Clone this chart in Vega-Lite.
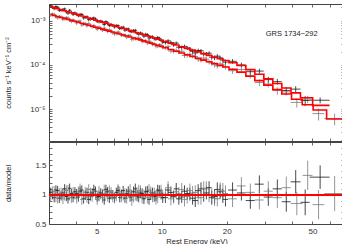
{
"$schema":"https://vega.github.io/schema/vega-lite/v6.json",
"padding":{"left":3,"top":3,"right":3,"bottom":0},
"spacing":-3,
"config":{"font":"Liberation Sans","view":{"stroke":null},
"axis":{"labelFont":"Liberation Sans","titleFont":"Liberation Sans","labelFontSize":8,"titleFontSize":7.5,"titleFontWeight":"normal","labelColor":"#333","titleColor":"#222","domainColor":"#444","tickColor":"#444","tickSize":-3,"grid":false,"labelOverlap":false,"labelFlush":false,"domainWidth":1,"tickWidth":0.8}},
"datasets":{"d":[
{"s":"A","e":3.055,"w":0.055,"m":2.104e-3,"f":2.188e-3,"fe":1.68e-4,"r":1.04,"d":0.08},
{"s":"A","e":3.17,"w":0.06,"m":1.992e-3,"f":1.892e-3,"fe":1.59e-4,"r":0.95,"d":0.08},
{"s":"A","e":3.29,"w":0.06,"m":1.886e-3,"f":2.018e-3,"fe":1.51e-4,"r":1.07,"d":0.08},
{"s":"A","e":3.415,"w":0.065,"m":1.785e-3,"f":1.749e-3,"fe":1.43e-4,"r":0.98,"d":0.08},
{"s":"A","e":3.545,"w":0.065,"m":1.689e-3,"f":1.858e-3,"fe":1.35e-4,"r":1.10,"d":0.08},
{"s":"A","e":3.675,"w":0.065,"m":1.601e-3,"f":1.489e-3,"fe":1.28e-4,"r":0.93,"d":0.08},
{"s":"A","e":3.81,"w":0.07,"m":1.518e-3,"f":1.548e-3,"fe":1.21e-4,"r":1.02,"d":0.08},
{"s":"A","e":3.955,"w":0.075,"m":1.437e-3,"f":1.509e-3,"fe":1.15e-4,"r":1.05,"d":0.08},
{"s":"A","e":4.105,"w":0.075,"m":1.359e-3,"f":1.305e-3,"fe":1.09e-4,"r":0.96,"d":0.08},
{"s":"A","e":4.26,"w":0.08,"m":1.286e-3,"f":1.389e-3,"fe":1.03e-4,"r":1.08,"d":0.08},
{"s":"A","e":4.42,"w":0.08,"m":1.218e-3,"f":1.206e-3,"fe":9.7e-5,"r":0.99,"d":0.08},
{"s":"A","e":4.585,"w":0.085,"m":1.154e-3,"f":1.062e-3,"fe":9.2e-5,"r":0.92,"d":0.08},
{"s":"A","e":4.755,"w":0.085,"m":1.093e-3,"f":1.126e-3,"fe":8.7e-5,"r":1.03,"d":0.08},
{"s":"A","e":4.93,"w":0.09,"m":1.036e-3,"f":1.098e-3,"fe":8.3e-5,"r":1.06,"d":0.08},
{"s":"A","e":5.115,"w":0.095,"m":9.81e-4,"f":9.52e-4,"fe":7.8e-5,"r":0.97,"d":0.08},
{"s":"A","e":5.31,"w":0.1,"m":9.29e-4,"f":9.38e-4,"fe":7.4e-5,"r":1.01,"d":0.08},
{"s":"A","e":5.51,"w":0.1,"m":8.79e-4,"f":9.58e-4,"fe":7.0e-5,"r":1.09,"d":0.08},
{"s":"A","e":5.715,"w":0.105,"m":8.33e-4,"f":7.83e-4,"fe":6.7e-5,"r":0.94,"d":0.08},
{"s":"A","e":5.93,"w":0.11,"m":7.88e-4,"f":7.88e-4,"fe":6.3e-5,"r":1.00,"d":0.08},
{"s":"A","e":6.155,"w":0.115,"m":7.46e-4,"f":7.76e-4,"fe":6.0e-5,"r":1.04,"d":0.08},
{"s":"A","e":6.385,"w":0.115,"m":7.07e-4,"f":6.72e-4,"fe":5.7e-5,"r":0.95,"d":0.08},
{"s":"A","e":6.625,"w":0.125,"m":6.69e-4,"f":7.16e-4,"fe":5.4e-5,"r":1.07,"d":0.08},
{"s":"A","e":6.875,"w":0.125,"m":6.34e-4,"f":6.47e-4,"fe":5.1e-5,"r":1.02,"d":0.08},
{"s":"A","e":7.13,"w":0.13,"m":6.00e-4,"f":5.76e-4,"fe":4.8e-5,"r":0.96,"d":0.08},
{"s":"A","e":7.4,"w":0.14,"m":5.68e-4,"f":5.96e-4,"fe":5.1e-5,"r":1.05,"d":0.09},
{"s":"A","e":7.68,"w":0.14,"m":5.38e-4,"f":5.27e-4,"fe":4.8e-5,"r":0.98,"d":0.09},
{"s":"A","e":7.965,"w":0.145,"m":5.10e-4,"f":5.25e-4,"fe":4.6e-5,"r":1.03,"d":0.09},
{"s":"A","e":8.265,"w":0.155,"m":4.83e-4,"f":4.49e-4,"fe":4.3e-5,"r":0.93,"d":0.09},
{"s":"A","e":8.575,"w":0.155,"m":4.56e-4,"f":4.83e-4,"fe":4.1e-5,"r":1.06,"d":0.09},
{"s":"A","e":8.895,"w":0.165,"m":4.31e-4,"f":4.31e-4,"fe":3.9e-5,"r":1.00,"d":0.09},
{"s":"A","e":9.23,"w":0.17,"m":4.07e-4,"f":3.95e-4,"fe":3.7e-5,"r":0.97,"d":0.09},
{"s":"A","e":9.575,"w":0.175,"m":3.85e-4,"f":4.16e-4,"fe":3.5e-5,"r":1.08,"d":0.09},
{"s":"A","e":9.925,"w":0.175,"m":3.64e-4,"f":3.68e-4,"fe":3.3e-5,"r":1.01,"d":0.09},
{"s":"A","e":10.4,"w":0.3,"m":3.39e-4,"f":3.22e-4,"fe":3.1e-5,"r":0.95,"d":0.09},
{"s":"A","e":11.025,"w":0.325,"m":3.10e-4,"f":3.22e-4,"fe":3.1e-5,"r":1.04,"d":0.10},
{"s":"A","e":11.675,"w":0.325,"m":2.84e-4,"f":3.12e-4,"fe":2.8e-5,"r":1.10,"d":0.10},
{"s":"A","e":12.375,"w":0.375,"m":2.59e-4,"f":2.49e-4,"fe":2.6e-5,"r":0.96,"d":0.10},
{"s":"A","e":13.125,"w":0.375,"m":2.37e-4,"f":2.42e-4,"fe":2.4e-5,"r":1.02,"d":0.10},
{"s":"A","e":13.9,"w":0.4,"m":2.17e-4,"f":2.04e-4,"fe":2.4e-5,"r":0.94,"d":0.11},
{"s":"A","e":14.75,"w":0.45,"m":1.98e-4,"f":2.12e-4,"fe":2.2e-5,"r":1.07,"d":0.11},
{"s":"A","e":15.65,"w":0.45,"m":1.81e-4,"f":1.79e-4,"fe":2.0e-5,"r":0.99,"d":0.11},
{"s":"A","e":16.575,"w":0.475,"m":1.65e-4,"f":1.85e-4,"fe":1.8e-5,"r":1.12,"d":0.11},
{"s":"A","e":17.575,"w":0.525,"m":1.51e-4,"f":1.46e-4,"fe":1.8e-5,"r":0.97,"d":0.12},
{"s":"A","e":18.65,"w":0.55,"m":1.38e-4,"f":1.45e-4,"fe":1.7e-5,"r":1.05,"d":0.12},
{"s":"A","e":19.75,"w":0.55,"m":1.26e-4,"f":1.16e-4,"fe":1.5e-5,"r":0.92,"d":0.12},
{"s":"A","e":21.3,"w":1.0,"m":1.12e-4,"f":1.21e-4,"fe":1.5e-5,"r":1.08,"d":0.13},
{"s":"A","e":23.4,"w":1.1,"m":9.72e-5,"f":1.00e-4,"fe":1.3e-5,"r":1.03,"d":0.13},
{"s":"A","e":25.75,"w":1.25,"m":7.83e-5,"f":7.05e-5,"fe":1.1e-5,"r":0.90,"d":0.14},
{"s":"A","e":28.35,"w":1.35,"m":6.16e-5,"f":7.27e-5,"fe":9.2e-6,"r":1.18,"d":0.15},
{"s":"A","e":31.2,"w":1.5,"m":4.85e-5,"f":4.66e-5,"fe":7.3e-6,"r":0.96,"d":0.15},
{"s":"A","e":34.35,"w":1.65,"m":3.81e-5,"f":4.19e-5,"fe":6.1e-6,"r":1.10,"d":0.16},
{"s":"A","e":37.8,"w":1.8,"m":3.00e-5,"f":2.64e-5,"fe":5.1e-6,"r":0.88,"d":0.17},
{"s":"A","e":41.8,"w":2.2,"m":2.33e-5,"f":2.84e-5,"fe":4.7e-6,"r":1.22,"d":0.20},
{"s":"A","e":46.25,"w":2.25,"m":1.81e-5,"f":1.57e-5,"fe":4.0e-6,"r":0.87,"d":0.22},
{"s":"A","e":54.25,"w":5.75,"m":1.22e-5,"f":1.59e-5,"fe":2.4e-6,"r":1.30,"d":0.20},
{"s":"A","e":60,"m":1.22e-5},
{"s":"A","e":3.11,"w":0.06,"f":2.048e-3,"fe":1.64e-4,"r":1.00,"d":0.08},
{"s":"A","e":3.23,"w":0.06,"f":2.094e-3,"fe":1.55e-4,"r":1.08,"d":0.08},
{"s":"A","e":3.35,"w":0.065,"f":1.726e-3,"fe":1.47e-4,"r":0.94,"d":0.08},
{"s":"A","e":3.48,"w":0.065,"f":1.789e-3,"fe":1.39e-4,"r":1.03,"d":0.08},
{"s":"A","e":3.61,"w":0.065,"f":1.596e-3,"fe":1.32e-4,"r":0.97,"d":0.08},
{"s":"A","e":3.74,"w":0.07,"f":1.732e-3,"fe":1.25e-4,"r":1.11,"d":0.08},
{"s":"A","e":3.88,"w":0.07,"f":1.404e-3,"fe":1.18e-4,"r":0.95,"d":0.08},
{"s":"A","e":4.03,"w":0.075,"f":1.426e-3,"fe":1.12e-4,"r":1.02,"d":0.08},
{"s":"A","e":4.18,"w":0.08,"f":1.402e-3,"fe":1.06e-4,"r":1.06,"d":0.08},
{"s":"A","e":4.34,"w":0.08,"f":1.164e-3,"fe":1.00e-4,"r":0.93,"d":0.08},
{"s":"A","e":4.5,"w":0.085,"f":1.233e-3,"fe":9.5e-5,"r":1.04,"d":0.08},
{"s":"A","e":4.67,"w":0.085,"f":1.102e-3,"fe":9.0e-5,"r":0.98,"d":0.08},
{"s":"A","e":4.84,"w":0.09,"f":1.161e-3,"fe":8.5e-5,"r":1.09,"d":0.08},
{"s":"A","e":5.02,"w":0.09,"f":9.69e-4,"fe":8.1e-5,"r":0.96,"d":0.08},
{"s":"A","e":5.21,"w":0.1,"f":9.84e-4,"fe":7.6e-5,"r":1.03,"d":0.08},
{"s":"A","e":5.41,"w":0.1,"f":8.23e-4,"fe":7.2e-5,"r":0.91,"d":0.08},
{"s":"A","e":5.61,"w":0.105,"f":8.99e-4,"fe":6.8e-5,"r":1.05,"d":0.08},
{"s":"A","e":5.82,"w":0.11,"f":8.11e-4,"fe":6.5e-5,"r":1.00,"d":0.08},
{"s":"A","e":6.04,"w":0.11,"f":7.29e-4,"fe":6.1e-5,"r":0.95,"d":0.08},
{"s":"A","e":6.27,"w":0.115,"f":7.78e-4,"fe":5.8e-5,"r":1.07,"d":0.08},
{"s":"A","e":6.5,"w":0.12,"f":6.95e-4,"fe":5.5e-5,"r":1.01,"d":0.08},
{"s":"A","e":6.75,"w":0.125,"f":6.13e-4,"fe":5.2e-5,"r":0.94,"d":0.08},
{"s":"A","e":7.0,"w":0.13,"f":6.54e-4,"fe":4.9e-5,"r":1.06,"d":0.08},
{"s":"A","e":7.26,"w":0.135,"f":5.78e-4,"fe":5.3e-5,"r":0.99,"d":0.09},
{"s":"A","e":7.54,"w":0.14,"f":6.08e-4,"fe":5.0e-5,"r":1.10,"d":0.09},
{"s":"A","e":7.82,"w":0.145,"f":5.03e-4,"fe":4.7e-5,"r":0.96,"d":0.09},
{"s":"A","e":8.11,"w":0.15,"f":5.07e-4,"fe":4.5e-5,"r":1.02,"d":0.09},
{"s":"A","e":8.42,"w":0.155,"f":4.94e-4,"fe":4.2e-5,"r":1.05,"d":0.09},
{"s":"A","e":8.73,"w":0.16,"f":4.08e-4,"fe":4.0e-5,"r":0.92,"d":0.09},
{"s":"A","e":9.06,"w":0.165,"f":4.32e-4,"fe":3.8e-5,"r":1.03,"d":0.09},
{"s":"A","e":9.4,"w":0.17,"f":3.88e-4,"fe":3.6e-5,"r":0.98,"d":0.09},
{"s":"A","e":9.75,"w":0.175,"f":4.01e-4,"fe":3.4e-5,"r":1.07,"d":0.09},
{"s":"A","e":10.1,"w":0.2,"f":3.34e-4,"fe":3.2e-5,"r":0.95,"d":0.09},
{"s":"A","e":10.7,"w":0.3,"f":3.51e-4,"fe":3.3e-5,"r":1.08,"d":0.10},
{"s":"A","e":11.35,"w":0.325,"f":2.88e-4,"fe":3.0e-5,"r":0.97,"d":0.10},
{"s":"A","e":12.0,"w":0.35,"f":2.53e-4,"fe":2.7e-5,"r":0.93,"d":0.10},
{"s":"A","e":12.75,"w":0.375,"f":2.63e-4,"fe":2.5e-5,"r":1.06,"d":0.10},
{"s":"A","e":13.5,"w":0.4,"f":2.29e-4,"fe":2.5e-5,"r":1.01,"d":0.11},
{"s":"A","e":14.3,"w":0.425,"f":1.87e-4,"fe":2.3e-5,"r":0.90,"d":0.11},
{"s":"A","e":15.2,"w":0.45,"f":2.09e-4,"fe":2.1e-5,"r":1.10,"d":0.11},
{"s":"A","e":16.1,"w":0.46,"f":1.78e-4,"fe":1.9e-5,"r":1.03,"d":0.11},
{"s":"A","e":17.05,"w":0.5,"f":1.50e-4,"fe":1.9e-5,"r":0.95,"d":0.12},
{"s":"A","e":18.1,"w":0.54,"f":1.58e-4,"fe":1.7e-5,"r":1.09,"d":0.12},
{"s":"A","e":19.2,"w":0.55,"f":1.29e-4,"fe":1.6e-5,"r":0.98,"d":0.12},
{"s":"B","e":3.055,"w":0.055,"m":1.390e-3,"f":1.348e-3,"fe":1.25e-4,"r":0.97,"d":0.09},
{"s":"B","e":3.17,"w":0.06,"m":1.320e-3,"f":1.399e-3,"fe":1.19e-4,"r":1.06,"d":0.09},
{"s":"B","e":3.29,"w":0.06,"m":1.254e-3,"f":1.179e-3,"fe":1.13e-4,"r":0.94,"d":0.09},
{"s":"B","e":3.415,"w":0.065,"m":1.191e-3,"f":1.227e-3,"fe":1.07e-4,"r":1.03,"d":0.09},
{"s":"B","e":3.545,"w":0.065,"m":1.132e-3,"f":1.121e-3,"fe":1.02e-4,"r":0.99,"d":0.09},
{"s":"B","e":3.675,"w":0.065,"m":1.076e-3,"f":1.162e-3,"fe":9.7e-5,"r":1.08,"d":0.09},
{"s":"B","e":3.81,"w":0.07,"m":1.024e-3,"f":9.73e-4,"fe":9.2e-5,"r":0.95,"d":0.09},
{"s":"B","e":3.955,"w":0.075,"m":9.73e-4,"f":9.83e-4,"fe":8.8e-5,"r":1.01,"d":0.09},
{"s":"B","e":4.105,"w":0.075,"m":9.24e-4,"f":9.70e-4,"fe":8.3e-5,"r":1.05,"d":0.09},
{"s":"B","e":4.26,"w":0.08,"m":8.78e-4,"f":8.08e-4,"fe":7.9e-5,"r":0.92,"d":0.09},
{"s":"B","e":4.42,"w":0.08,"m":8.34e-4,"f":8.67e-4,"fe":7.5e-5,"r":1.04,"d":0.09},
{"s":"B","e":4.585,"w":0.085,"m":7.93e-4,"f":8.64e-4,"fe":7.1e-5,"r":1.09,"d":0.09},
{"s":"B","e":4.755,"w":0.085,"m":7.54e-4,"f":7.31e-4,"fe":6.8e-5,"r":0.97,"d":0.09},
{"s":"B","e":4.93,"w":0.09,"m":7.17e-4,"f":7.17e-4,"fe":6.5e-5,"r":1.00,"d":0.09},
{"s":"B","e":5.115,"w":0.095,"m":6.82e-4,"f":7.23e-4,"fe":6.1e-5,"r":1.06,"d":0.09},
{"s":"B","e":5.31,"w":0.1,"m":6.47e-4,"f":6.15e-4,"fe":5.8e-5,"r":0.95,"d":0.09},
{"s":"B","e":5.51,"w":0.1,"m":6.15e-4,"f":6.27e-4,"fe":5.5e-5,"r":1.02,"d":0.09},
{"s":"B","e":5.715,"w":0.105,"m":5.85e-4,"f":6.26e-4,"fe":5.3e-5,"r":1.07,"d":0.09},
{"s":"B","e":5.93,"w":0.11,"m":5.56e-4,"f":5.34e-4,"fe":5.0e-5,"r":0.96,"d":0.09},
{"s":"B","e":6.155,"w":0.115,"m":5.28e-4,"f":5.17e-4,"fe":4.8e-5,"r":0.98,"d":0.09},
{"s":"B","e":6.385,"w":0.115,"m":5.02e-4,"f":5.27e-4,"fe":4.5e-5,"r":1.05,"d":0.09},
{"s":"B","e":6.625,"w":0.125,"m":4.77e-4,"f":4.72e-4,"fe":4.3e-5,"r":0.99,"d":0.09},
{"s":"B","e":6.875,"w":0.125,"m":4.53e-4,"f":4.26e-4,"fe":4.1e-5,"r":0.94,"d":0.09},
{"s":"B","e":7.13,"w":0.13,"m":4.31e-4,"f":4.65e-4,"fe":4.3e-5,"r":1.08,"d":0.10},
{"s":"B","e":7.4,"w":0.14,"m":4.09e-4,"f":3.97e-4,"fe":4.1e-5,"r":0.97,"d":0.10},
{"s":"B","e":7.68,"w":0.14,"m":3.89e-4,"f":4.01e-4,"fe":3.9e-5,"r":1.03,"d":0.10},
{"s":"B","e":7.965,"w":0.145,"m":3.70e-4,"f":3.92e-4,"fe":3.7e-5,"r":1.06,"d":0.10},
{"s":"B","e":8.265,"w":0.155,"m":3.51e-4,"f":3.47e-4,"fe":3.5e-5,"r":0.99,"d":0.10},
{"s":"B","e":8.575,"w":0.155,"m":3.32e-4,"f":3.15e-4,"fe":3.3e-5,"r":0.95,"d":0.10},
{"s":"B","e":8.895,"w":0.165,"m":3.13e-4,"f":3.26e-4,"fe":3.1e-5,"r":1.04,"d":0.10},
{"s":"B","e":9.23,"w":0.17,"m":2.95e-4,"f":3.01e-4,"fe":3.0e-5,"r":1.02,"d":0.10},
{"s":"B","e":9.575,"w":0.175,"m":2.79e-4,"f":2.68e-4,"fe":2.8e-5,"r":0.96,"d":0.10},
{"s":"B","e":9.925,"w":0.175,"m":2.64e-4,"f":2.82e-4,"fe":2.6e-5,"r":1.07,"d":0.10},
{"s":"B","e":10.4,"w":0.3,"m":2.45e-4,"f":2.47e-4,"fe":2.7e-5,"r":1.01,"d":0.11},
{"s":"B","e":11.025,"w":0.325,"m":2.24e-4,"f":2.08e-4,"fe":2.5e-5,"r":0.93,"d":0.11},
{"s":"B","e":11.675,"w":0.325,"m":2.04e-4,"f":2.14e-4,"fe":2.2e-5,"r":1.05,"d":0.11},
{"s":"B","e":12.375,"w":0.375,"m":1.87e-4,"f":2.04e-4,"fe":2.1e-5,"r":1.09,"d":0.11},
{"s":"B","e":13.125,"w":0.375,"m":1.70e-4,"f":1.65e-4,"fe":2.0e-5,"r":0.97,"d":0.12},
{"s":"B","e":13.9,"w":0.4,"m":1.56e-4,"f":1.61e-4,"fe":1.9e-5,"r":1.03,"d":0.12},
{"s":"B","e":14.75,"w":0.45,"m":1.42e-4,"f":1.35e-4,"fe":1.7e-5,"r":0.95,"d":0.12},
{"s":"B","e":15.65,"w":0.45,"m":1.29e-4,"f":1.43e-4,"fe":1.5e-5,"r":1.11,"d":0.12},
{"s":"B","e":16.575,"w":0.475,"m":1.18e-4,"f":1.18e-4,"fe":1.5e-5,"r":1.00,"d":0.13},
{"s":"B","e":17.575,"w":0.525,"m":1.08e-4,"f":1.02e-4,"fe":1.4e-5,"r":0.94,"d":0.13},
{"s":"B","e":18.65,"w":0.55,"m":9.81e-5,"f":1.06e-4,"fe":1.3e-5,"r":1.08,"d":0.13},
{"s":"B","e":19.75,"w":0.55,"m":8.96e-5,"f":9.14e-5,"fe":1.3e-5,"r":1.02,"d":0.14},
{"s":"B","e":21.3,"w":1.0,"m":7.96e-5,"f":7.40e-5,"fe":1.1e-5,"r":0.93,"d":0.14},
{"s":"B","e":23.4,"w":1.1,"m":6.87e-5,"f":7.90e-5,"fe":1.0e-5,"r":1.15,"d":0.15},
{"s":"B","e":25.75,"w":1.25,"m":5.57e-5,"f":5.79e-5,"fe":8.4e-6,"r":1.04,"d":0.15},
{"s":"B","e":28.35,"w":1.35,"m":4.41e-5,"f":4.01e-5,"fe":7.1e-6,"r":0.91,"d":0.16},
{"s":"B","e":31.2,"w":1.5,"m":3.50e-5,"f":3.71e-5,"fe":6.0e-6,"r":1.06,"d":0.17},
{"s":"B","e":34.35,"w":1.65,"m":2.77e-5,"f":2.63e-5,"fe":5.0e-6,"r":0.95,"d":0.18},
{"s":"B","e":37.8,"w":1.8,"m":2.20e-5,"f":2.46e-5,"fe":4.2e-6,"r":1.12,"d":0.19},
{"s":"B","e":42.3,"w":2.7,"m":1.67e-5,"f":1.42e-5,"fe":3.3e-6,"r":0.85,"d":0.20},
{"s":"B","e":47.5,"w":2.5,"m":1.26e-5,"f":1.68e-5,"fe":3.2e-6,"r":1.33,"d":0.25},
{"s":"B","e":53.35,"w":3.35,"m":9.55e-6,"f":7.93e-6,"fe":2.4e-6,"r":0.83,"d":0.25},
{"s":"B","e":63.35,"w":6.65,"m":6.0e-6,"f":6.12e-6,"fe":1.8e-6,"r":1.02,"d":0.30},
{"s":"B","e":70,"m":6.0e-6},
{"s":"B","e":3.11,"w":0.06,"f":1.423e-3,"fe":1.22e-4,"r":1.05,"d":0.09},
{"s":"B","e":3.23,"w":0.06,"f":1.236e-3,"fe":1.16e-4,"r":0.96,"d":0.09},
{"s":"B","e":3.35,"w":0.065,"f":1.247e-3,"fe":1.10e-4,"r":1.02,"d":0.09},
{"s":"B","e":3.48,"w":0.065,"f":1.081e-3,"fe":1.05e-4,"r":0.93,"d":0.09},
{"s":"B","e":3.61,"w":0.065,"f":1.181e-3,"fe":9.9e-5,"r":1.07,"d":0.09},
{"s":"B","e":3.74,"w":0.07,"f":1.040e-3,"fe":9.5e-5,"r":0.99,"d":0.09},
{"s":"B","e":3.88,"w":0.07,"f":1.039e-3,"fe":9.0e-5,"r":1.04,"d":0.09},
{"s":"B","e":4.03,"w":0.075,"f":8.92e-4,"fe":8.5e-5,"r":0.94,"d":0.09},
{"s":"B","e":4.18,"w":0.08,"f":9.91e-4,"fe":8.1e-5,"r":1.10,"d":0.09},
{"s":"B","e":4.34,"w":0.08,"f":8.39e-4,"fe":7.7e-5,"r":0.98,"d":0.09},
{"s":"B","e":4.5,"w":0.085,"f":7.73e-4,"fe":7.3e-5,"r":0.95,"d":0.09},
{"s":"B","e":4.67,"w":0.085,"f":7.97e-4,"fe":7.0e-5,"r":1.03,"d":0.09},
{"s":"B","e":4.84,"w":0.09,"f":7.80e-4,"fe":6.6e-5,"r":1.06,"d":0.09},
{"s":"B","e":5.02,"w":0.09,"f":6.44e-4,"fe":6.3e-5,"r":0.92,"d":0.09},
{"s":"B","e":5.21,"w":0.1,"f":6.72e-4,"fe":6.0e-5,"r":1.01,"d":0.09},
{"s":"B","e":5.41,"w":0.1,"f":6.81e-4,"fe":5.7e-5,"r":1.08,"d":0.09},
{"s":"B","e":5.61,"w":0.105,"f":5.82e-4,"fe":5.4e-5,"r":0.97,"d":0.09},
{"s":"B","e":5.82,"w":0.11,"f":5.94e-4,"fe":5.1e-5,"r":1.04,"d":0.09},
{"s":"B","e":6.04,"w":0.11,"f":5.09e-4,"fe":4.9e-5,"r":0.94,"d":0.09},
{"s":"B","e":6.27,"w":0.115,"f":5.61e-4,"fe":4.6e-5,"r":1.09,"d":0.09},
{"s":"B","e":6.5,"w":0.12,"f":4.70e-4,"fe":4.4e-5,"r":0.96,"d":0.09},
{"s":"B","e":6.75,"w":0.125,"f":4.74e-4,"fe":4.2e-5,"r":1.02,"d":0.09},
{"s":"B","e":7.0,"w":0.13,"f":4.64e-4,"fe":4.0e-5,"r":1.05,"d":0.09},
{"s":"B","e":7.26,"w":0.135,"f":3.82e-4,"fe":4.2e-5,"r":0.91,"d":0.10},
{"s":"B","e":7.54,"w":0.14,"f":3.99e-4,"fe":4.0e-5,"r":1.00,"d":0.10},
{"s":"B","e":7.82,"w":0.145,"f":4.07e-4,"fe":3.8e-5,"r":1.07,"d":0.10},
{"s":"B","e":8.11,"w":0.15,"f":3.43e-4,"fe":3.6e-5,"r":0.95,"d":0.10},
{"s":"B","e":8.42,"w":0.155,"f":3.52e-4,"fe":3.4e-5,"r":1.03,"d":0.10},
{"s":"B","e":8.73,"w":0.16,"f":3.49e-4,"fe":3.2e-5,"r":1.08,"d":0.10},
{"s":"B","e":9.06,"w":0.165,"f":2.95e-4,"fe":3.0e-5,"r":0.97,"d":0.10},
{"s":"B","e":9.4,"w":0.17,"f":2.67e-4,"fe":2.9e-5,"r":0.93,"d":0.10},
{"s":"B","e":9.75,"w":0.175,"f":2.86e-4,"fe":2.7e-5,"r":1.05,"d":0.10},
{"s":"B","e":10.1,"w":0.2,"f":2.52e-4,"fe":2.6e-5,"r":0.99,"d":0.10},
{"s":"B","e":10.7,"w":0.3,"f":2.63e-4,"fe":2.6e-5,"r":1.12,"d":0.11},
{"s":"B","e":11.35,"w":0.325,"f":2.05e-4,"fe":2.4e-5,"r":0.96,"d":0.11},
{"s":"B","e":12.0,"w":0.35,"f":2.00e-4,"fe":2.2e-5,"r":1.02,"d":0.11},
{"s":"B","e":12.75,"w":0.375,"f":1.65e-4,"fe":2.1e-5,"r":0.92,"d":0.12},
{"s":"B","e":13.5,"w":0.4,"f":1.74e-4,"fe":2.0e-5,"r":1.07,"d":0.12},
{"s":"B","e":14.3,"w":0.425,"f":1.55e-4,"fe":1.8e-5,"r":1.04,"d":0.12},
{"s":"B","e":15.2,"w":0.45,"f":1.29e-4,"fe":1.6e-5,"r":0.95,"d":0.12},
{"s":"B","e":16.1,"w":0.46,"f":1.36e-4,"fe":1.6e-5,"r":1.10,"d":0.13},
{"s":"B","e":17.05,"w":0.5,"f":1.11e-4,"fe":1.5e-5,"r":0.98,"d":0.13},
{"s":"B","e":18.1,"w":0.54,"f":9.58e-5,"fe":1.3e-5,"r":0.93,"d":0.13},
{"s":"B","e":19.2,"w":0.55,"f":9.95e-5,"fe":1.3e-5,"r":1.06,"d":0.14}
]},
"vconcat":[
{"width":295,"height":137,"data":{"name":"d"},
"layer":[
{"transform":[{"filter":"isValid(datum.f)"}],"mark":{"type":"errorbar","thickness":0.8},
"encoding":{
"x":{"field":"e","type":"quantitative","scale":{"type":"log","domain":[3,70],"nice":false},"axis":{"orient":"bottom","values":[3,4,5,6,7,8,9,10,20,30,40,50,60,70],"labels":false,"title":null,"minExtent":0,"maxExtent":0}},
"y":{"field":"f","type":"quantitative","scale":{"type":"log","domain":[1.9e-6,2.4e-3],"nice":false},"axis":{"orient":"left","values":[3e-6,4e-6,5e-6,6e-6,7e-6,8e-6,9e-6,1e-5,2e-5,3e-5,4e-5,5e-5,6e-5,7e-5,8e-5,9e-5,1e-4,2e-4,3e-4,4e-4,5e-4,6e-4,7e-4,8e-4,9e-4,1e-3,2e-3],"labelExpr":"datum.value == 0.001 ? '10⁻³' : datum.value == 0.0001 ? '10⁻⁴' : datum.value == 0.00001 ? '10⁻⁵' : ''","title":"counts s⁻¹ keV⁻¹ cm⁻²","titleX":-37,"labelPadding":7}},
"yError":{"field":"fe"},
"color":{"field":"s","type":"nominal","scale":{"domain":["A","B"],"range":["#1a1a1a","#7a7a7a"]},"legend":null}}},
{"transform":[{"filter":"isValid(datum.f)"}],"mark":{"type":"errorbar","thickness":0.8},
"encoding":{
"x":{"field":"e","type":"quantitative","scale":{"type":"log","domain":[3,70],"nice":false},"axis":null},
"xError":{"field":"w"},
"y":{"field":"f","type":"quantitative","scale":{"type":"log","domain":[1.9e-6,2.4e-3],"nice":false},"axis":null},
"color":{"field":"s","type":"nominal","scale":{"domain":["A","B"],"range":["#1a1a1a","#7a7a7a"]},"legend":null}}},
{"transform":[{"filter":"isValid(datum.m)"}],"mark":{"type":"line","color":"#ff0000","strokeWidth":1.6,"interpolate":"step","clip":true},
"encoding":{
"x":{"field":"e","type":"quantitative","scale":{"type":"log","domain":[3,70],"nice":false},"axis":{"orient":"top","values":[3,4,5,6,7,8,9,10,20,30,40,50,60,70],"labels":false,"title":null}},
"y":{"field":"m","type":"quantitative","scale":{"type":"log","domain":[1.9e-6,2.4e-3],"nice":false},"axis":{"orient":"right","values":[2e-6,3e-6,4e-6,5e-6,6e-6,7e-6,8e-6,9e-6,1e-5,2e-5,3e-5,4e-5,5e-5,6e-5,7e-5,8e-5,9e-5,1e-4,2e-4,3e-4,4e-4,5e-4,6e-4,7e-4,8e-4,9e-4,1e-3,2e-3],"labels":false,"title":null}},
"detail":{"field":"s"}}},
{"data":{"values":[{"t":"GRS 1734−292","x":40,"y":0.0005}]},
"mark":{"type":"text","font":"Liberation Sans","fontSize":7.5,"color":"#222"},
"encoding":{"x":{"field":"x","type":"quantitative","axis":null},"y":{"field":"y","type":"quantitative","axis":null},"text":{"field":"t"}}}
],
"resolve":{"axis":{"x":"independent","y":"independent"}}},
{"width":295,"height":82,"data":{"name":"d"},
"layer":[
{"transform":[{"filter":"isValid(datum.r)"}],"mark":{"type":"errorbar","thickness":0.8},
"encoding":{
"x":{"field":"e","type":"quantitative","scale":{"type":"log","domain":[3,70],"nice":false},"axis":{"orient":"bottom","values":[3,4,5,6,7,8,9,10,20,30,40,50,60,70],"labelExpr":"datum.value == 5 ? '5' : datum.value == 10 ? '10' : datum.value == 20 ? '20' : datum.value == 50 ? '50' : ''","title":"Rest Energy (keV)","labelPadding":6,"titlePadding":2}},
"y":{"field":"r","type":"quantitative","scale":{"domain":[0.5,1.9],"nice":false,"zero":false},"axis":{"orient":"left","values":[0.5,0.6,0.7,0.8,0.9,1,1.1,1.2,1.3,1.4,1.5,1.6,1.7,1.8],"labelExpr":"datum.value == 0.5 ? '0.5' : datum.value == 1 ? '1' : datum.value == 1.5 ? '1.5' : ''","title":"data/model","titleX":-37,"labelPadding":6}},
"yError":{"field":"d"},
"color":{"field":"s","type":"nominal","scale":{"domain":["A","B"],"range":["#1a1a1a","#7a7a7a"]},"legend":null}}},
{"transform":[{"filter":"isValid(datum.r)"}],"mark":{"type":"errorbar","thickness":0.8},
"encoding":{
"x":{"field":"e","type":"quantitative","scale":{"type":"log","domain":[3,70],"nice":false},"axis":{"orient":"top","values":[3,4,5,6,7,8,9,10,20,30,40,50,60,70],"labels":false,"title":null,"minExtent":0,"maxExtent":0}},
"xError":{"field":"w"},
"y":{"field":"r","type":"quantitative","scale":{"domain":[0.5,1.9],"nice":false,"zero":false},"axis":{"orient":"right","values":[0.5,0.6,0.7,0.8,0.9,1,1.1,1.2,1.3,1.4,1.5,1.6,1.7,1.8],"labels":false,"title":null}},
"color":{"field":"s","type":"nominal","scale":{"domain":["A","B"],"range":["#1a1a1a","#7a7a7a"]},"legend":null}}},
{"mark":{"type":"rule","color":"#ff0000","strokeWidth":1.2},"encoding":{"y":{"datum":1,"axis":null}}}
],
"resolve":{"axis":{"x":"independent","y":"independent"}}}
]
}
